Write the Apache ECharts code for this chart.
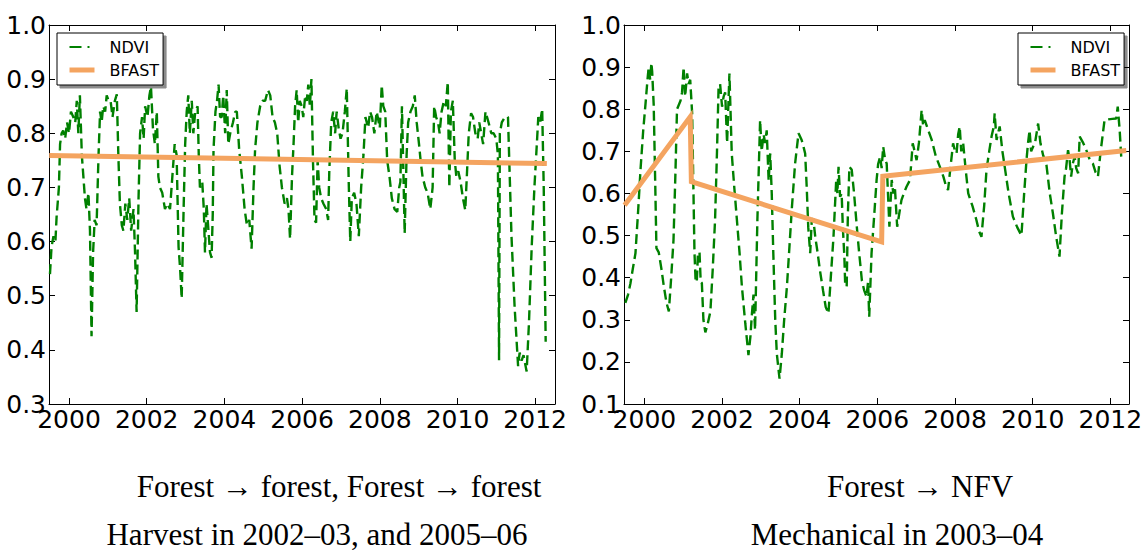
<!DOCTYPE html>
<html>
<head>
<meta charset="utf-8">
<script src="https://cdn.jsdelivr.net/npm/echarts@6/dist/echarts.min.js"></script>
<style>
html,body{margin:0;padding:0;background:#fff;}
#chart{width:1147px;height:550px;}
</style>
</head>
<body>
<div id="chart"></div>
<script>
// ---- tick labels ----
const xTickYears = [2000, 2002, 2004, 2006, 2008, 2010, 2012];
const leftYRange = [0.3, 1.0];
const rightYRange = [0.1, 1.0];
const leftXRange = [1999.485, 2012.51];
const rightXRange = [1999.475, 2012.48];

// ---- captions ----
const leftCaption = ['Forest \u2192 forest, Forest \u2192 forest', 'Harvest in 2002\u201303, and 2005\u201306'];
const rightCaption = ['Forest \u2192 NFV', 'Mechanical in 2003\u201304'];

// ---- left panel NDVI ----
const leftNdviYears = [
1999.51,1999.55,1999.60,1999.65,1999.68,1999.74,1999.77,1999.81,1999.85,1999.90,1999.95,2000.00,2000.05,2000.11,2000.16,2000.20,2000.24,2000.28,2000.33,2000.37,
2000.41,2000.45,2000.50,2000.54,2000.58,2000.62,2000.66,2000.71,2000.76,2000.80,2000.84,2000.88,2000.93,2000.97,2001.02,2001.07,2001.12,2001.18,2001.23,2001.27,
2001.31,2001.36,2001.40,2001.45,2001.50,2001.55,2001.60,2001.66,2001.70,2001.74,2001.79,2001.83,2001.88,2001.92,2001.96,2002.02,2002.07,2002.11,2002.16,2002.21,
2002.26,2002.30,2002.34,2002.40,2002.47,2002.53,2002.60,2002.66,2002.72,2002.77,2002.82,2002.86,2002.90,2002.95,2002.99,2003.03,2003.07,2003.11,2003.16,2003.20,
2003.25,2003.31,2003.34,2003.37,2003.43,2003.47,2003.50,2003.54,2003.59,2003.63,2003.67,2003.70,2003.72,2003.77,2003.81,2003.85,2003.89,2003.93,2003.97,2004.02,
2004.06,2004.10,2004.15,2004.22,2004.28,2004.32,2004.38,2004.45,2004.52,2004.58,2004.64,2004.70,2004.75,2004.79,2004.85,2004.92,2004.98,2005.05,2005.12,2005.18,
2005.24,2005.30,2005.36,2005.42,2005.48,2005.55,2005.61,2005.65,2005.69,2005.74,2005.78,2005.82,2005.86,2005.90,2005.94,2005.99,2006.03,2006.08,2006.12,2006.16,
2006.20,2006.24,2006.28,2006.32,2006.36,2006.40,2006.44,2006.49,2006.55,2006.62,2006.67,2006.70,2006.75,2006.80,2006.85,2006.89,2006.94,2006.99,2007.04,2007.10,
2007.15,2007.20,2007.24,2007.28,2007.34,2007.40,2007.46,2007.52,2007.58,2007.63,2007.70,2007.75,2007.80,2007.86,2007.92,2008.00,2008.05,2008.09,2008.14,2008.19,
2008.25,2008.31,2008.38,2008.45,2008.50,2008.53,2008.57,2008.61,2008.64,2008.69,2008.73,2008.79,2008.85,2008.90,2008.95,2009.01,2009.05,2009.10,2009.17,2009.23,
2009.30,2009.36,2009.40,2009.45,2009.50,2009.54,2009.59,2009.65,2009.70,2009.75,2009.79,2009.83,2009.88,2009.93,2009.97,2010.02,2010.08,2010.14,2010.20,2010.24,
2010.29,2010.35,2010.40,2010.46,2010.52,2010.56,2010.61,2010.66,2010.72,2010.80,2010.87,2010.93,2011.00,2011.04,2011.07,2011.09,2011.14,2011.22,2011.30,2011.39,
2011.47,2011.56,2011.60,2011.65,2011.70,2011.78,2011.84,2011.91,2011.98,2012.05,2012.08,2012.13,2012.18,2012.22,2012.27];
const leftNdviValues = [
0.54,0.59,0.61,0.60,0.645,0.70,0.78,0.80,0.805,0.79,0.82,0.80,0.84,0.83,0.82,0.86,0.80,0.87,0.76,0.72,
0.68,0.66,0.69,0.62,0.425,0.58,0.64,0.63,0.76,0.84,0.82,0.85,0.84,0.87,0.86,0.86,0.83,0.86,0.872,0.76,
0.67,0.63,0.62,0.67,0.64,0.68,0.62,0.66,0.58,0.47,0.68,0.80,0.83,0.79,0.85,0.83,0.87,0.886,0.81,0.78,
0.84,0.72,0.70,0.69,0.66,0.67,0.66,0.72,0.78,0.76,0.59,0.55,0.495,0.66,0.78,0.84,0.87,0.80,0.86,0.80,
0.84,0.85,0.76,0.70,0.71,0.66,0.58,0.67,0.62,0.58,0.57,0.65,0.77,0.84,0.86,0.89,0.83,0.83,0.87,0.80,
0.88,0.78,0.80,0.82,0.84,0.84,0.77,0.72,0.66,0.63,0.64,0.587,0.70,0.77,0.82,0.85,0.86,0.86,0.88,0.87,
0.83,0.82,0.80,0.74,0.70,0.67,0.68,0.66,0.605,0.72,0.78,0.85,0.88,0.82,0.86,0.85,0.83,0.87,0.86,0.89,
0.85,0.90,0.75,0.64,0.635,0.75,0.70,0.68,0.67,0.66,0.64,0.73,0.82,0.84,0.80,0.84,0.81,0.79,0.80,0.84,
0.883,0.71,0.60,0.68,0.69,0.67,0.61,0.70,0.76,0.83,0.81,0.84,0.83,0.80,0.84,0.81,0.889,0.85,0.84,0.75,
0.72,0.68,0.66,0.655,0.70,0.71,0.85,0.72,0.615,0.76,0.82,0.84,0.85,0.87,0.82,0.78,0.75,0.72,0.70,0.69,
0.66,0.70,0.85,0.83,0.82,0.80,0.84,0.86,0.85,0.895,0.70,0.84,0.86,0.75,0.72,0.73,0.71,0.68,0.658,0.72,
0.80,0.837,0.83,0.80,0.79,0.82,0.80,0.78,0.84,0.82,0.80,0.80,0.79,0.76,0.381,0.80,0.82,0.83,0.83,0.61,
0.48,0.37,0.395,0.38,0.39,0.36,0.45,0.59,0.70,0.79,0.83,0.82,0.845,0.70,0.415];

// ---- left panel BFAST ----
const leftBfastYears = [1999.49, 2012.30];
const leftBfastValues = [0.759, 0.744];

// ---- right panel NDVI ----
const rightNdviYears = [
1999.51,1999.58,1999.64,1999.70,1999.77,1999.84,1999.90,1999.97,2000.03,2000.08,2000.11,2000.15,2000.18,2000.20,2000.24,2000.28,2000.31,2000.37,2000.44,2000.50,
2000.57,2000.63,2000.69,2000.75,2000.80,2000.84,2000.93,2000.97,2001.01,2001.05,2001.10,2001.14,2001.18,2001.23,2001.29,2001.32,2001.35,2001.38,2001.42,2001.45,
2001.48,2001.52,2001.57,2001.63,2001.70,2001.76,2001.82,2001.87,2001.91,2001.95,2002.00,2002.04,2002.08,2002.13,2002.19,2002.25,2002.31,2002.38,2002.45,2002.51,
2002.60,2002.68,2002.73,2002.77,2002.81,2002.85,2002.91,2002.98,2003.02,2003.07,2003.11,2003.15,2003.20,2003.24,2003.28,2003.32,2003.37,2003.41,2003.48,2003.54,
2003.60,2003.67,2003.74,2003.80,2003.88,2003.97,2004.05,2004.10,2004.14,2004.18,2004.22,2004.27,2004.31,2004.35,2004.40,2004.46,2004.52,2004.60,2004.67,2004.74,
2004.80,2004.87,2004.94,2004.97,2005.00,2005.04,2005.08,2005.11,2005.15,2005.17,2005.21,2005.24,2005.28,2005.34,2005.40,2005.47,2005.53,2005.60,2005.66,2005.72,
2005.76,2005.79,2005.85,2005.92,2005.98,2006.02,2006.07,2006.11,2006.15,2006.20,2006.24,2006.31,2006.34,2006.37,2006.41,2006.45,2006.51,2006.56,2006.62,2006.68,
2006.75,2006.84,2006.91,2006.96,2007.01,2007.07,2007.14,2007.18,2007.22,2007.31,2007.40,2007.50,2007.61,2007.70,2007.76,2007.82,2007.88,2007.95,2008.00,2008.04,
2008.08,2008.12,2008.16,2008.21,2008.27,2008.34,2008.45,2008.55,2008.62,2008.68,2008.75,2008.81,2008.88,2008.94,2009.00,2009.02,2009.07,2009.10,2009.15,2009.22,
2009.28,2009.38,2009.49,2009.60,2009.71,2009.78,2009.84,2009.88,2009.92,2009.96,2010.01,2010.06,2010.14,2010.20,2010.27,2010.35,2010.44,2010.52,2010.60,2010.69,
2010.75,2010.82,2010.86,2010.91,2010.95,2010.99,2011.03,2011.08,2011.12,2011.17,2011.21,2011.30,2011.38,2011.47,2011.55,2011.62,2011.68,2011.75,2011.85,2011.95,
2012.05,2012.15,2012.19,2012.24,2012.28];
const rightNdviValues = [
0.34,0.36,0.386,0.42,0.458,0.56,0.656,0.75,0.814,0.87,0.90,0.87,0.91,0.89,0.81,0.62,0.47,0.46,0.42,0.38,
0.34,0.32,0.40,0.49,0.65,0.80,0.82,0.84,0.90,0.83,0.885,0.86,0.87,0.79,0.46,0.39,0.39,0.46,0.46,0.39,
0.387,0.30,0.27,0.29,0.32,0.42,0.537,0.70,0.85,0.86,0.806,0.83,0.84,0.72,0.885,0.695,0.62,0.54,0.46,0.38,
0.29,0.216,0.26,0.315,0.36,0.276,0.537,0.774,0.70,0.74,0.72,0.75,0.63,0.695,0.60,0.458,0.30,0.22,0.16,0.22,
0.30,0.378,0.48,0.568,0.67,0.743,0.727,0.71,0.695,0.616,0.52,0.458,0.537,0.54,0.497,0.46,0.418,0.37,0.33,0.315,
0.40,0.497,0.632,0.60,0.663,0.592,0.60,0.521,0.45,0.386,0.378,0.55,0.663,0.656,0.60,0.521,0.46,0.394,0.37,0.355,
0.39,0.307,0.458,0.55,0.632,0.67,0.687,0.66,0.711,0.68,0.671,0.521,0.58,0.632,0.60,0.616,0.521,0.55,0.584,0.60,
0.616,0.632,0.719,0.70,0.679,0.72,0.798,0.76,0.774,0.75,0.727,0.69,0.663,0.64,0.62,0.608,0.66,0.719,0.70,0.695,
0.74,0.759,0.70,0.719,0.66,0.60,0.57,0.537,0.51,0.497,0.57,0.656,0.70,0.735,0.76,0.79,0.727,0.74,0.759,0.70,
0.663,0.60,0.545,0.52,0.50,0.60,0.679,0.72,0.75,0.70,0.711,0.72,0.766,0.719,0.69,0.671,0.60,0.553,0.50,0.45,
0.55,0.64,0.66,0.703,0.68,0.64,0.67,0.687,0.66,0.648,0.735,0.72,0.703,0.68,0.671,0.65,0.64,0.70,0.774,0.776,
0.777,0.778,0.806,0.75,0.687];

// ---- right panel BFAST (piecewise with breaks) ----
const rightBfastYears = [1999.49, 2001.18, 2001.21, 2006.11, 2006.14, 2012.41];
const rightBfastValues = [0.572, 0.782, 0.628, 0.485, 0.641, 0.702];

function zip(xs, ys) { return xs.map((x, i) => [x, ys[i]]); }

const BLACK = '#000';
const GREEN = '#008000';
const ORANGE = '#f4a460';
const TICK_FONT = 'DejaVu Sans';

function xAxesFor(grid, range) {
  const base = {
    type: 'value', gridIndex: grid, min: range[0], max: range[1],
    axisLine: { show: true, onZero: false, lineStyle: { color: BLACK, width: 1 } },
    splitLine: { show: false }
  };
  return [
    Object.assign({}, base, {
      position: 'bottom',
      axisTick: { show: true, inside: true, length: 6, customValues: xTickYears, lineStyle: { color: BLACK } },
      axisLabel: { show: true, customValues: xTickYears, formatter: v => String(Math.round(v)),
        color: BLACK, fontSize: 25, lineHeight: 14, fontFamily: TICK_FONT, margin: 8 }
    }),
    Object.assign({}, base, {
      position: 'top',
      axisTick: { show: true, inside: true, length: 6, customValues: xTickYears, lineStyle: { color: BLACK } },
      axisLabel: { show: false }
    })
  ];
}
function yAxesFor(grid, range) {
  const base = {
    type: 'value', gridIndex: grid, min: range[0], max: range[1], interval: 0.1,
    axisLine: { show: true, onZero: false, lineStyle: { color: BLACK, width: 1 } },
    splitLine: { show: false },
    axisTick: { show: true, inside: true, length: 6, lineStyle: { color: BLACK } }
  };
  return [
    Object.assign({}, base, {
      position: 'left',
      axisLabel: { show: true, formatter: v => v.toFixed(1), color: BLACK, fontSize: 25, lineHeight: 14,
        fontFamily: TICK_FONT, margin: 3 }
    }),
    Object.assign({}, base, { position: 'right', axisLabel: { show: false } })
  ];
}

const HIDDEN = { color: 'rgba(0,0,0,0)', borderColor: 'rgba(0,0,0,0)', borderWidth: 0, opacity: 0 };
function legendFor(left, top) {
  return {
    orient: 'vertical', left: left, top: top,
    padding: [6, 4, 7, 10], itemGap: 7, itemWidth: 25, itemHeight: 8,
    backgroundColor: '#fff', borderColor: BLACK, borderWidth: 1, borderRadius: 0,
    shadowColor: 'rgba(0,0,0,0.45)', shadowBlur: 0, shadowOffsetX: 3, shadowOffsetY: 3,
    textStyle: { color: BLACK, fontSize: 16, fontFamily: TICK_FONT, padding: [0, 0, 0, 10] },
    selectedMode: false,
    data: [
      { name: 'NDVI', itemStyle: HIDDEN, lineStyle: { color: GREEN, width: 2, type: [12, 6, 2, 6] } },
      { name: 'BFAST', itemStyle: HIDDEN, lineStyle: { color: ORANGE, width: 5 } }
    ]
  };
}

function ndviSeries(xi, yi, data) {
  return { name: 'NDVI', type: 'line', xAxisIndex: xi, yAxisIndex: yi, data: data,
    symbol: 'none', showSymbol: false, smooth: false, animation: false,
    lineStyle: { color: GREEN, width: 2.4, type: [10, 5] }, itemStyle: { color: GREEN }, z: 2 };
}
function bfastSeries(xi, yi, data) {
  return { name: 'BFAST', type: 'line', xAxisIndex: xi, yAxisIndex: yi, data: data,
    symbol: 'none', showSymbol: false, animation: false,
    lineStyle: { color: ORANGE, width: 5, cap: 'butt', join: 'miter' }, itemStyle: { color: ORANGE }, z: 3 };
}

function caption(text, cx, cy) {
  return { type: 'text', x: cx, y: cy, silent: true,
    style: { text: text, fill: BLACK, fontSize: 31, fontFamily: 'Liberation Serif',
      textAlign: 'center', textVerticalAlign: 'middle' } };
}

const chart = echarts.init(document.getElementById('chart'), null, { renderer: 'svg', width: 1147, height: 550 });
chart.setOption({
  animation: false,
  backgroundColor: '#fff',
  grid: [
    { left: 49, top: 25, width: 506, height: 379, containLabel: false },
    { left: 624, top: 25, width: 505, height: 379, containLabel: false }
  ],
  xAxis: xAxesFor(0, leftXRange).concat(xAxesFor(1, rightXRange)),
  yAxis: yAxesFor(0, leftYRange).concat(yAxesFor(1, rightYRange)),
  legend: [legendFor(57, 33), legendFor(1018, 33)],
  series: [
    ndviSeries(0, 0, zip(leftNdviYears, leftNdviValues)),
    bfastSeries(0, 0, zip(leftBfastYears, leftBfastValues)),
    ndviSeries(2, 2, zip(rightNdviYears, rightNdviValues)),
    bfastSeries(2, 2, zip(rightBfastYears, rightBfastValues))
  ],
  graphic: [
    caption(leftCaption[0], 339, 486),
    caption(leftCaption[1], 317, 534),
    caption(rightCaption[0], 920, 486),
    caption(rightCaption[1], 897, 534)
  ]
});
</script>
</body>
</html>
